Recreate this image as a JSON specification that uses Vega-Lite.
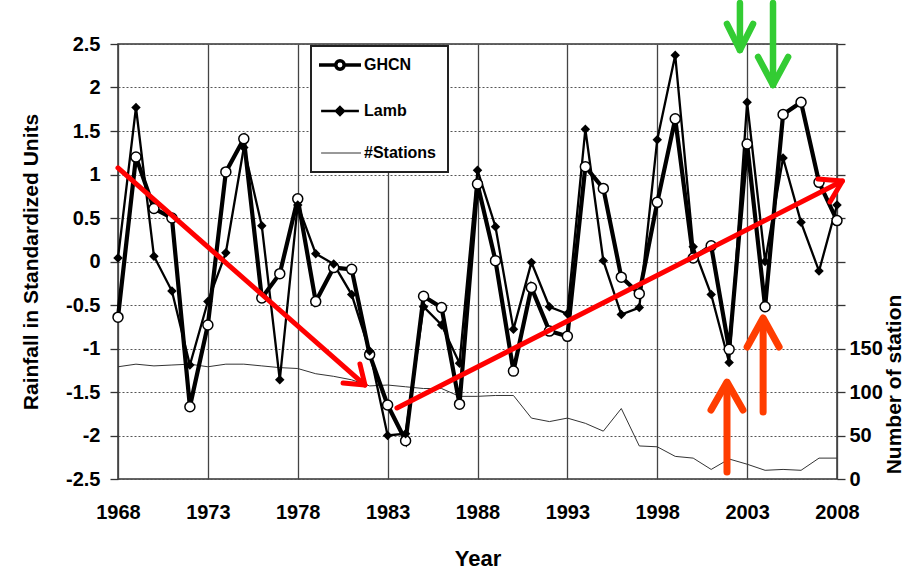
{
  "$schema": "https://vega.github.io/schema/vega-lite/v6.json",
  "width": 719,
  "height": 435,
  "autosize": {"type": "none"},
  "padding": {"left": 118, "top": 44, "right": 72, "bottom": 99},
  "background": "white",
  "config": {
    "font": "Liberation Sans",
    "view": {"stroke": "#333", "strokeWidth": 1.5},
    "axis": {"labelFont": "Liberation Sans", "titleFont": "Liberation Sans", "labelFontWeight": "bold", "titleFontWeight": "bold", "labelColor": "black", "titleColor": "black", "labelFontSize": 20}
  },
  "datasets": {
    "rain": [
      {"year":1968,"series":"GHCN","value":-0.64},{"year":1969,"series":"GHCN","value":1.20},{"year":1970,"series":"GHCN","value":0.61},{"year":1971,"series":"GHCN","value":0.50},{"year":1972,"series":"GHCN","value":-1.67},{"year":1973,"series":"GHCN","value":-0.73},{"year":1974,"series":"GHCN","value":1.03},{"year":1975,"series":"GHCN","value":1.41},{"year":1976,"series":"GHCN","value":-0.42},{"year":1977,"series":"GHCN","value":-0.14},{"year":1978,"series":"GHCN","value":0.72},{"year":1979,"series":"GHCN","value":-0.46},{"year":1980,"series":"GHCN","value":-0.07},{"year":1981,"series":"GHCN","value":-0.09},{"year":1982,"series":"GHCN","value":-1.07},{"year":1983,"series":"GHCN","value":-1.65},{"year":1984,"series":"GHCN","value":-2.06},{"year":1985,"series":"GHCN","value":-0.40},{"year":1986,"series":"GHCN","value":-0.53},{"year":1987,"series":"GHCN","value":-1.64},{"year":1988,"series":"GHCN","value":0.89},{"year":1989,"series":"GHCN","value":0.01},{"year":1990,"series":"GHCN","value":-1.26},{"year":1991,"series":"GHCN","value":-0.30},{"year":1992,"series":"GHCN","value":-0.80},{"year":1993,"series":"GHCN","value":-0.86},{"year":1994,"series":"GHCN","value":1.09},{"year":1995,"series":"GHCN","value":0.84},{"year":1996,"series":"GHCN","value":-0.18},{"year":1997,"series":"GHCN","value":-0.37},{"year":1998,"series":"GHCN","value":0.68},{"year":1999,"series":"GHCN","value":1.64},{"year":2000,"series":"GHCN","value":0.04},{"year":2001,"series":"GHCN","value":0.18},{"year":2002,"series":"GHCN","value":-1.01},{"year":2003,"series":"GHCN","value":1.35},{"year":2004,"series":"GHCN","value":-0.52},{"year":2005,"series":"GHCN","value":1.69},{"year":2006,"series":"GHCN","value":1.83},{"year":2007,"series":"GHCN","value":0.91},{"year":2008,"series":"GHCN","value":0.47},
      {"year":1968,"series":"Lamb","value":0.04},{"year":1969,"series":"Lamb","value":1.77},{"year":1970,"series":"Lamb","value":0.06},{"year":1971,"series":"Lamb","value":-0.34},{"year":1972,"series":"Lamb","value":-1.19},{"year":1973,"series":"Lamb","value":-0.46},{"year":1974,"series":"Lamb","value":0.10},{"year":1975,"series":"Lamb","value":1.31},{"year":1976,"series":"Lamb","value":0.41},{"year":1977,"series":"Lamb","value":-1.36},{"year":1978,"series":"Lamb","value":0.65},{"year":1979,"series":"Lamb","value":0.09},{"year":1980,"series":"Lamb","value":-0.03},{"year":1981,"series":"Lamb","value":-0.38},{"year":1982,"series":"Lamb","value":-1.03},{"year":1983,"series":"Lamb","value":-2.00},{"year":1984,"series":"Lamb","value":-1.98},{"year":1985,"series":"Lamb","value":-0.52},{"year":1986,"series":"Lamb","value":-0.73},{"year":1987,"series":"Lamb","value":-1.17},{"year":1988,"series":"Lamb","value":1.05},{"year":1989,"series":"Lamb","value":0.40},{"year":1990,"series":"Lamb","value":-0.78},{"year":1991,"series":"Lamb","value":-0.01},{"year":1992,"series":"Lamb","value":-0.52},{"year":1993,"series":"Lamb","value":-0.60},{"year":1994,"series":"Lamb","value":1.52},{"year":1995,"series":"Lamb","value":0.01},{"year":1996,"series":"Lamb","value":-0.61},{"year":1997,"series":"Lamb","value":-0.53},{"year":1998,"series":"Lamb","value":1.40},{"year":1999,"series":"Lamb","value":2.37},{"year":2000,"series":"Lamb","value":0.17},{"year":2001,"series":"Lamb","value":-0.38},{"year":2002,"series":"Lamb","value":-1.16},{"year":2003,"series":"Lamb","value":1.83},{"year":2004,"series":"Lamb","value":0.00},{"year":2005,"series":"Lamb","value":1.19},{"year":2006,"series":"Lamb","value":0.45},{"year":2007,"series":"Lamb","value":-0.11},{"year":2008,"series":"Lamb","value":0.65}
    ],
    "stations": [
      {"year":1968,"n":129},{"year":1969,"n":132},{"year":1970,"n":130},{"year":1971,"n":131},{"year":1972,"n":132},{"year":1973,"n":129},{"year":1974,"n":132},{"year":1975,"n":132},{"year":1976,"n":130},{"year":1977,"n":128},{"year":1978,"n":127},{"year":1979,"n":121},{"year":1980,"n":118},{"year":1981,"n":114},{"year":1982,"n":107},{"year":1983,"n":108},{"year":1984,"n":106},{"year":1985,"n":104},{"year":1986,"n":104},{"year":1987,"n":95},{"year":1988,"n":95},{"year":1989,"n":96},{"year":1990,"n":96},{"year":1991,"n":70},{"year":1992,"n":66},{"year":1993,"n":70},{"year":1994,"n":64},{"year":1995,"n":55},{"year":1996,"n":81},{"year":1997,"n":38},{"year":1998,"n":37},{"year":1999,"n":26},{"year":2000,"n":24},{"year":2001,"n":11},{"year":2002,"n":23},{"year":2003,"n":17},{"year":2004,"n":10},{"year":2005,"n":11},{"year":2006,"n":10},{"year":2007,"n":24},{"year":2008,"n":24}
    ],
    "arrows": [
      {"g":"red","part":"r1s","o":0,"year":1968.00,"value":1.075},{"g":"red","part":"r1s","o":1,"year":1981.74,"value":-1.420},
      {"g":"red","part":"r1h","o":0,"year":1980.52,"value":-1.397},{"g":"red","part":"r1h","o":1,"year":1981.74,"value":-1.420},{"g":"red","part":"r1h","o":2,"year":1981.46,"value":-1.178},
      {"g":"red","part":"r2s","o":0,"year":1983.52,"value":-1.684},{"g":"red","part":"r2s","o":1,"year":2008.30,"value":0.925},
      {"g":"red","part":"r2h","o":0,"year":2006.94,"value":0.948},{"g":"red","part":"r2h","o":1,"year":2008.30,"value":0.925},{"g":"red","part":"r2h","o":2,"year":2007.61,"value":0.684},
      {"g":"green","part":"g1s","o":0,"year":2002.60,"value":2.971},{"g":"green","part":"g1s","o":1,"year":2002.60,"value":2.431},
      {"g":"green","part":"g1h","o":0,"year":2001.88,"value":2.730},{"g":"green","part":"g1h","o":1,"year":2002.60,"value":2.431},{"g":"green","part":"g1h","o":2,"year":2003.33,"value":2.730},
      {"g":"green","part":"g2s","o":0,"year":2004.44,"value":2.971},{"g":"green","part":"g2s","o":1,"year":2004.44,"value":2.029},
      {"g":"green","part":"g2h","o":0,"year":2003.61,"value":2.351},{"g":"green","part":"g2h","o":1,"year":2004.44,"value":2.029},{"g":"green","part":"g2h","o":2,"year":2005.28,"value":2.351},
      {"g":"orange","part":"o1s","o":0,"year":2001.88,"value":-2.420},{"g":"orange","part":"o1s","o":1,"year":2001.88,"value":-1.420},
      {"g":"orange","part":"o1h","o":0,"year":2000.99,"value":-1.707},{"g":"orange","part":"o1h","o":1,"year":2001.88,"value":-1.386},{"g":"orange","part":"o1h","o":2,"year":2002.77,"value":-1.707},
      {"g":"orange","part":"o2s","o":0,"year":2003.89,"value":-1.730},{"g":"orange","part":"o2s","o":1,"year":2003.89,"value":-0.672},
      {"g":"orange","part":"o2h","o":0,"year":2003.00,"value":-0.983},{"g":"orange","part":"o2h","o":1,"year":2003.89,"value":-0.649},{"g":"orange","part":"o2h","o":2,"year":2004.78,"value":-0.983}
    ]
  },
  "encoding": {
    "x": {
      "field": "year", "type": "quantitative", "title": "Year",
      "scale": {"domain": [1968, 2008], "nice": false, "zero": false},
      "axis": {
        "values": [1968, 1973, 1978, 1983, 1988, 1993, 1998, 2003, 2008],
        "labelExpr": "'' + datum.value", "labelFlush": false, "labelOverlap": false,
        "grid": true, "gridColor": "#444", "gridWidth": 1.3, "ticks": false, "domain": false,
        "labelPadding": 23, "labelFontSize": 20,
        "title": "Year", "titleFontSize": 22, "titleX": 359.5, "titleY": 86, "titleAlign": "center", "titleBaseline": "alphabetic"
      }
    }
  },
  "layer": [
    {
      "data": {"name": "stations"},
      "mark": {"type": "line", "color": "#333", "strokeWidth": 1},
      "encoding": {
        "y": {
          "field": "n", "type": "quantitative",
          "scale": {"domain": [0, 500], "nice": false},
          "axis": {
            "orient": "right", "values": [0, 50, 100, 150, 200, 250, 300, 350, 400, 450, 500],
            "labelExpr": "datum.value <= 150 ? '' + datum.value : ''", "labelFlush": false,
            "tickSize": 8, "tickColor": "#333", "tickWidth": 1.3, "labelPadding": 4, "domain": false, "grid": false,
            "title": "Number of station", "titleFontSize": 21, "titleAngle": 270, "titleX": 63, "titleY": 340, "titleAlign": "center", "titleBaseline": "alphabetic"
          }
        },
        "color": {"datum": "#Stations", "type": "nominal"}
      }
    },
    {
      "layer": [
        {
          "data": {"values": [{}]},
          "mark": {"type": "rule", "color": "#333", "strokeWidth": 1.5},
          "encoding": {"x": {"datum": 1968}, "x2": {"datum": 2008}, "y": {"datum": 0}}
        },
        {
          "data": {"name": "rain"},
          "transform": [{"filter": "datum.series === 'GHCN'"}],
          "mark": {"type": "line", "strokeWidth": 4.2},
          "encoding": {
            "y": {
              "field": "value", "type": "quantitative", "title": "Rainfall in Standardized Units",
              "scale": {"domain": [-2.5, 2.5], "nice": false, "zero": false},
              "axis": {
                "orient": "left", "values": [-2.5, -2, -1.5, -1, -0.5, 0, 0.5, 1, 1.5, 2, 2.5],
                "labelExpr": "'' + datum.value", "labelFlush": false,
                "grid": true, "gridDash": [2, 2], "gridColor": "#555", "gridWidth": 1,
                "tickSize": 8, "tickColor": "#333", "tickWidth": 1.3, "labelPadding": 10, "domain": false,
                "title": "Rainfall in Standardized Units", "titleFontSize": 21, "titleAngle": 270, "titleX": -81, "titleY": 217.5, "titleAlign": "center", "titleBaseline": "alphabetic"
              }
            },
            "color": {
              "field": "series", "type": "nominal",
              "scale": {"domain": ["GHCN", "Lamb", "#Stations"], "range": ["black", "black", "#333"]},
              "legend": {
                "title": null, "orient": "none", "legendX": 193, "legendY": 2,
                "padding": 11, "rowPadding": 25, "fillColor": "white", "strokeColor": "#222",
                "symbolType": "M-1,0H1", "symbolSize": 1764, "symbolStrokeWidth": 2, "symbolOffset": 10,
                "labelFont": "Liberation Sans", "labelFontSize": 16, "labelFontWeight": "bold", "labelColor": "black", "labelOffset": 16,
                "encode": {
                  "legend": {"update": {"strokeWidth": {"value": 2}}},
                  "symbols": {"update": {
                    "shape": {"signal": "datum.value === 'GHCN' ? 'M-1,0H-0.2M0.2,0H1M0.2,0A0.2,0.2,0,1,1,-0.2,0A0.2,0.2,0,1,1,0.2,0' : datum.value === 'Lamb' ? 'M-0.9,0H0.9M0,-0.19L0.19,0L0,0.19L-0.19,0Z' : 'M-0.9,0H1'"},
                    "strokeWidth": {"signal": "datum.value === 'GHCN' ? 3.5 : datum.value === 'Lamb' ? 2.5 : 1"},
                    "fill": {"signal": "datum.value === 'GHCN' ? 'white' : datum.value === 'Lamb' ? 'black' : 'transparent'"},
                    "stroke": {"value": "black"},
                    "opacity": {"value": 1}
                  }}
                }
              }
            }
          }
        },
        {
          "data": {"name": "rain"},
          "transform": [{"filter": "datum.series === 'Lamb'"}],
          "mark": {"type": "line", "strokeWidth": 2.3},
          "encoding": {
            "y": {"field": "value", "type": "quantitative"},
            "color": {"field": "series", "type": "nominal"}
          }
        },
        {
          "data": {"name": "rain"},
          "transform": [{"filter": "datum.series === 'GHCN'"}],
          "mark": {"type": "point", "shape": "circle", "filled": true, "fill": "white", "stroke": "black", "strokeWidth": 1.5, "size": 100, "opacity": 1},
          "encoding": {"y": {"field": "value", "type": "quantitative"}}
        },
        {
          "data": {"name": "rain"},
          "transform": [{"filter": "datum.series === 'Lamb'"}],
          "mark": {"type": "point", "shape": "diamond", "filled": true, "color": "black", "size": 90, "opacity": 1},
          "encoding": {"y": {"field": "value", "type": "quantitative"}}
        },
        {
          "data": {"name": "arrows"},
          "transform": [{"filter": "datum.g === 'red'"}],
          "mark": {"type": "line", "color": "#FF0000", "strokeWidth": 5, "strokeCap": "round", "strokeJoin": "round"},
          "encoding": {"y": {"field": "value", "type": "quantitative"}, "detail": {"field": "part"}, "order": {"field": "o"}}
        },
        {
          "data": {"name": "arrows"},
          "transform": [{"filter": "datum.g === 'green'"}],
          "mark": {"type": "line", "color": "#33CC33", "strokeWidth": 6.5, "strokeCap": "round", "strokeJoin": "round"},
          "encoding": {"y": {"field": "value", "type": "quantitative"}, "detail": {"field": "part"}, "order": {"field": "o"}}
        },
        {
          "data": {"name": "arrows"},
          "transform": [{"filter": "datum.g === 'orange'"}],
          "mark": {"type": "line", "color": "#FF3D00", "strokeWidth": 7, "strokeCap": "round", "strokeJoin": "round"},
          "encoding": {"y": {"field": "value", "type": "quantitative"}, "detail": {"field": "part"}, "order": {"field": "o"}}
        }
      ]
    }
  ],
  "resolve": {"scale": {"y": "independent"}}
}
